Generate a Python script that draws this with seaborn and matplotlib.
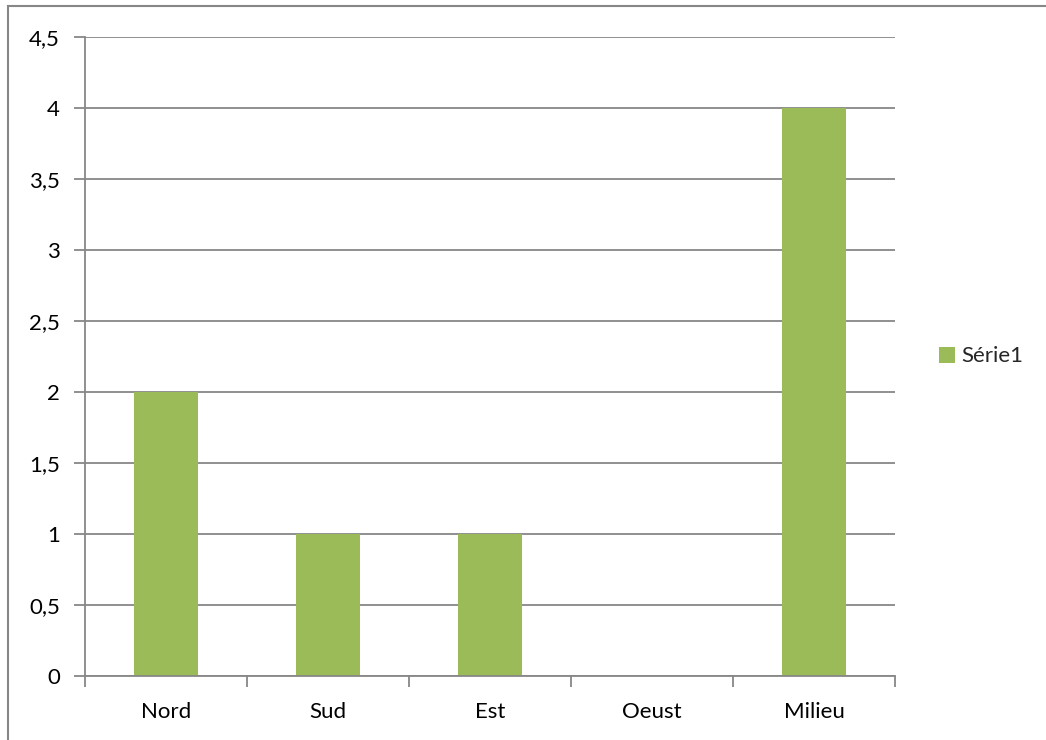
import matplotlib
matplotlib.use("Agg")
import matplotlib.pyplot as plt
import seaborn as sns
import pandas as pd
from matplotlib.patches import Rectangle
from matplotlib.ticker import FuncFormatter, MultipleLocator

categories = ["Nord", "Sud", "Est", "Oeust", "Milieu"]
values = [2, 1, 1, 0, 4]
series_name = "Série1"

df = pd.DataFrame({"cat": categories, "val": values, "serie": series_name})

sns.set_theme(style="white")
plt.rcParams["font.family"] = ["Lato", "DejaVu Sans"]

grey = "#878787"
green = "#9BBB59"
fs = 16

fig = plt.figure(figsize=(10.46, 7.40), dpi=100)
ax = fig.add_axes([85 / 1046, 1 - 676 / 740, (895 - 85) / 1046, (676 - 37) / 740])

sns.barplot(data=df, x="cat", y="val", hue="serie", palette=[green],
            width=0.4, ax=ax, saturation=1, legend=True, linewidth=0)

ax.set_ylim(0, 4.5)
ax.set_xlim(-0.5, len(categories) - 0.5)
ax.yaxis.set_major_locator(MultipleLocator(0.5))
ax.yaxis.set_major_formatter(FuncFormatter(lambda v, p: f"{v:g}".replace(".", ",")))
ax.grid(axis="y", color=grey, linewidth=1.3)
ax.set_axisbelow(True)
ax.set_xlabel("")
ax.set_ylabel("")

for s in ["top", "right"]:
    ax.spines[s].set_visible(False)
for s in ["left", "bottom"]:
    ax.spines[s].set_color(grey)
    ax.spines[s].set_linewidth(1.3)

# category boundary ticks on x, outward ticks on y
ax.set_xticks(range(len(categories)))
ax.set_xticklabels(categories)
ax.tick_params(axis="x", which="major", bottom=True, length=0, pad=19,
               labelsize=fs, labelcolor="black")
ax.set_xticks([i - 0.5 for i in range(len(categories) + 1)], minor=True)
ax.tick_params(axis="x", which="minor", bottom=True, length=8, width=1.3,
               color=grey, direction="out")
ax.tick_params(axis="y", which="major", left=True, length=8, width=1.3, color=grey,
               direction="out", pad=10, labelsize=fs, labelcolor="black")

leg = ax.legend(loc="center left", bbox_to_anchor=(1.03, 0.5), frameon=False,
                fontsize=fs, handlelength=0.7, handleheight=0.7, handletextpad=0.3)

# chart outline
fig.patches.append(Rectangle((8 / 1046, -0.1), 1.2, (1 - 6 / 740) + 0.1,
                             transform=fig.transFigure, fill=False,
                             edgecolor=grey, linewidth=1.5))

fig.savefig("out.png", dpi=100)
